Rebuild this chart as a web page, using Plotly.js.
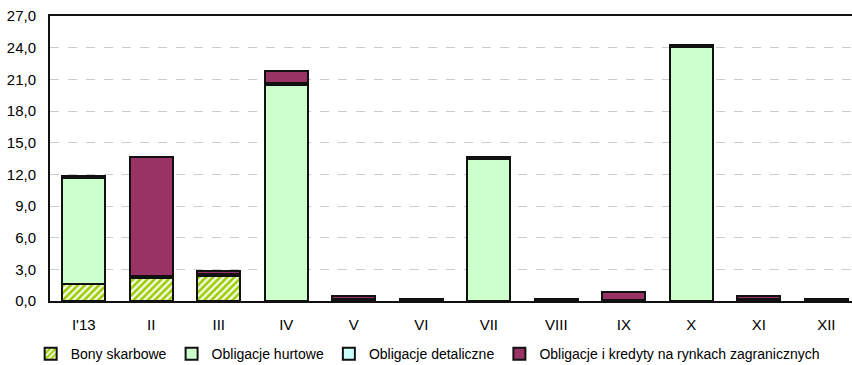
<!DOCTYPE html>
<html><head><meta charset="utf-8">
<script src="https://cdn.plot.ly/plotly-3.0.1.min.js"></script>
<style>body{margin:0}</style>
</head><body>
<div id="chart" style="width:852px;height:365px"></div>
<script>
const categories = ["I'13","II","III","IV","V","VI","VII","VIII","IX","X","XI","XII"];
const bonySkarbowe = [1.6, 2.15, 2.35, 0, 0, 0, 0, 0, 0, 0, 0, 0];
const obligacjeHurtowe = [10.05, 0, 0, 20.5, 0, 0, 13.45, 0, 0, 24.05, 0, 0];
const obligacjeDetaliczne = [0.15, 0.2, 0.2, 0.2, 0.2, 0.2, 0.15, 0.2, 0.1, 0.2, 0.2, 0.15];
const obligacjeZagraniczne = [0.05, 11.3, 0.3, 1.1, 0.3, 0, 0, 0, 0.75, 0, 0.25, 0];
const seriesNames = ["Bony skarbowe","Obligacje hurtowe","Obligacje detaliczne","Obligacje i kredyty na rynkach zagranicznych"];

const line = {color:'#111111', width:2};
const traces = [
  {type:'bar', x:categories, y:bonySkarbowe, name:seriesNames[0],
   marker:{color:'#ffffff', line:line, pattern:{shape:'/', fgcolor:'#99cc00', bgcolor:'#f4f9e0', size:5, solidity:0.5}}},
  {type:'bar', x:categories, y:obligacjeHurtowe, name:seriesNames[1],
   marker:{color:'#ccffcc', line:line}},
  {type:'bar', x:categories, y:obligacjeDetaliczne, name:seriesNames[2],
   marker:{color:'#ccffff', line:line}},
  {type:'bar', x:categories, y:obligacjeZagraniczne, name:seriesNames[3],
   marker:{color:'#993366', line:line}}
];
const fam = '"Liberation Sans",Arial,sans-serif';
const layout = {
  width:852, height:365,
  margin:{l:50, r:0, t:16, b:64},
  barmode:'stack', bargap:0.36,
  paper_bgcolor:'#fff', plot_bgcolor:'#fff',
  separators:', ',
  font:{family:fam, size:15, color:'#000'},
  showlegend:true,
  legend:{orientation:'h', traceorder:'normal', xref:'container', yref:'container',
          x:0.036, xanchor:'left', y:0.03, yanchor:'middle',
          font:{family:fam, size:14, color:'#000'}, itemwidth:30},
  xaxis:{type:'category', range:[-0.5, 11.38], showline:true, linecolor:'#111', linewidth:2,
         mirror:true, showgrid:false, ticks:'outside', ticklen:9, tickcolor:'rgba(0,0,0,0)',
         tickfont:{family:fam, size:15}},
  yaxis:{range:[0,27], dtick:3, tick0:0, tickformat:'.1f', showline:true, linecolor:'#111', linewidth:2,
         showgrid:true, gridcolor:'#cccccc', griddash:'dash', gridwidth:1, zeroline:false,
         ticks:'outside', ticklen:9, tickcolor:'rgba(0,0,0,0)',
         tickfont:{family:fam, size:15}}
};
Plotly.newPlot('chart', traces, layout, {staticPlot:true, displayModeBar:false});
</script>
</body></html>
